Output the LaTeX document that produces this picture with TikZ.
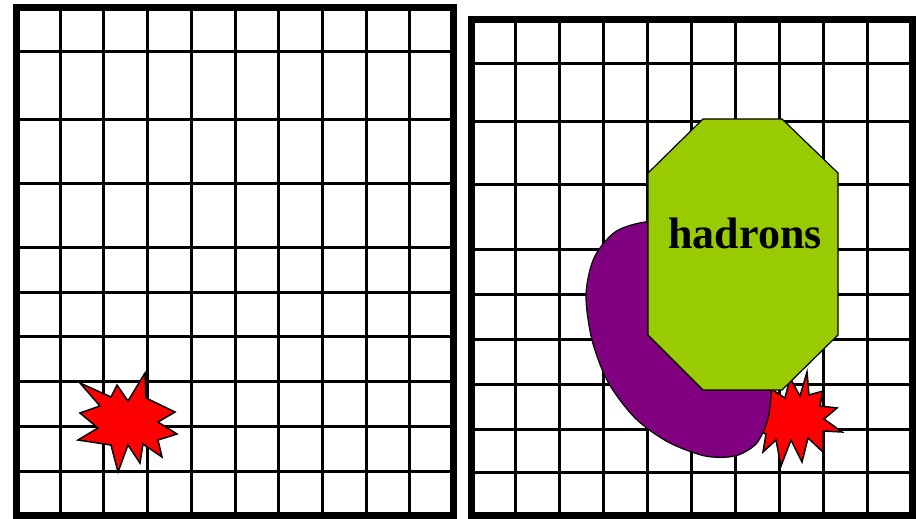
\documentclass[tikz,border=0pt]{standalone}
\usepackage{fontspec}
\setmainfont{Liberation Serif}
\definecolor{hadgreen}{HTML}{99CC00}
\definecolor{blobpurple}{HTML}{800080}
\begin{document}
\begin{tikzpicture}[x=1pt,y=-1pt,
  gridline/.style={line width=3pt,black},
  framebox/.style={line width=7pt,black,line join=miter},
  burst/.style={fill=red,draw=black,line width=1.5pt,line join=miter},
  blob/.style={fill=blobpurple,draw=black,line width=1.2pt},
  octa/.style={fill=hadgreen,draw=black,line width=1.2pt,line join=miter},
  label/.style={font=\fontsize{44}{44}\selectfont\bfseries,inner sep=0pt}]
\useasboundingbox (0,0) rectangle (916,519);
\fill[white] (0,0) rectangle (916,519);
% ---- left panel ----
\foreach \i in {1,...,9}
  \draw[gridline] ({16.5+\i*43.7},7.5) -- ({16.5+\i*43.7},515.5);
\foreach \y in {51.5,119.5,183.5,247.5,292.5,336.5,381.5,426.5,471.5}
  \draw[gridline] (16.5,\y) -- (453.5,\y);
\draw[framebox] (16.5,7.5) rectangle (453.5,515.5);
% left burst
\draw[burst] (145,373) -- (146,398) -- (175,412) -- (158,422) -- (177,434)
  -- (158,440) -- (162,457) -- (143,444) -- (140,463) -- (128,445)
  -- (118,472) -- (111,445) -- (78,440) -- (98,428) -- (80,413)
  -- (100,406) -- (80,383) -- (111,397) -- (117,385) -- (128,401) -- cycle;
% ---- right panel ----
\foreach \i in {1,...,9}
  \draw[gridline] ({471.5+\i*44.05},19.5) -- ({471.5+\i*44.05},515.5);
\foreach \y in {63.5,121.5,184.5,249.5,294.5,339.5,384.5,429.5,472.5}
  \draw[gridline] (471.5,\y) -- (912,\y);
\draw[framebox] (471.5,19.5) rectangle (912,515.5);
% right burst
\draw[burst] (807,372) -- (809,395) -- (823,391) -- (820,406) -- (837,408)
  -- (824,419) -- (842,432) -- (823,431) -- (823,452) -- (808,438)
  -- (802,462) -- (791,440) -- (781,466) -- (776,440) -- (763,452)
  -- (766,434) -- (760,432) -- (765,420) -- (750,410) -- (768,405)
  -- (765,385) -- (785,398) -- (790,378) -- (800,396) -- cycle;
% purple blob
\draw[blob] plot[smooth cycle] coordinates {(645,222) (615,232) (594,258)
  (586,295) (592,340) (608,382) (635,418) (668,442) (705,456) (735,456)
  (756,444) (767,422) (771,395) (768,360) (750,300) (710,245) (675,224)};
% green octagon
\draw[octa] (703,119) -- (782,119) -- (838,173) -- (838,335) -- (782,390)
  -- (703,390) -- (648,335) -- (648,173) -- cycle;
\node[label,anchor=base] (had) at (745,248) {hadrons};
\end{tikzpicture}
\end{document}
